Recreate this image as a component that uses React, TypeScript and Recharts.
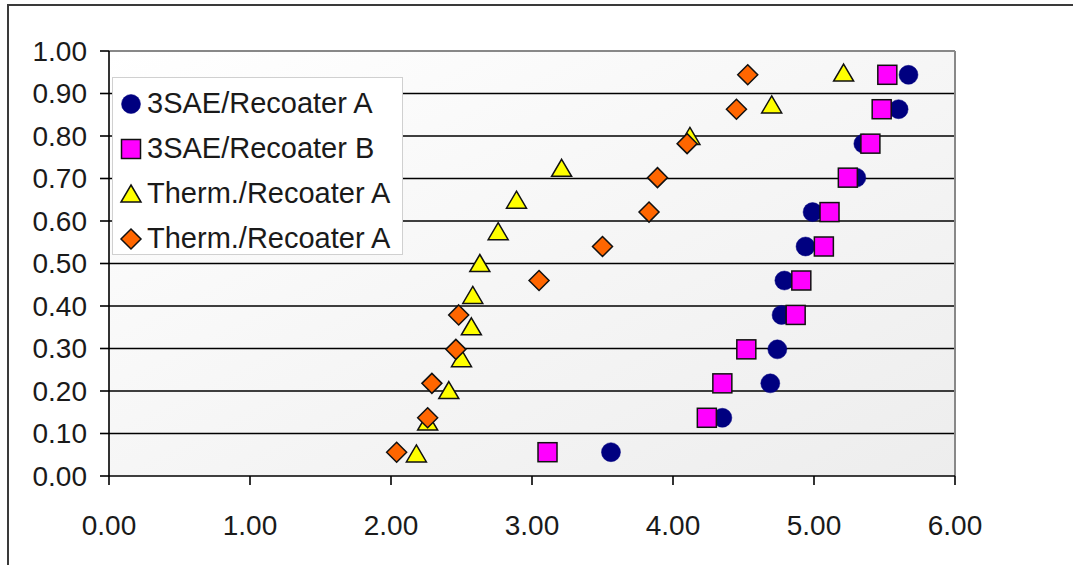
import React from 'react';
import { ScatterChart, Scatter, XAxis, YAxis, CartesianGrid, ReferenceLine, Legend } from 'recharts';

// Median ranks (y) for the 12-sample and 13-sample series
const ranks12 = [0.056, 0.137, 0.218, 0.298, 0.379, 0.46, 0.54, 0.621, 0.702, 0.782, 0.863, 0.944];
const ranks13 = [0.052, 0.127, 0.201, 0.276, 0.351, 0.425, 0.5, 0.575, 0.649, 0.724, 0.799, 0.873, 0.948];

// x values per series
const sae3RecoaterA = [3.56, 4.35, 4.69, 4.74, 4.77, 4.79, 4.94, 4.99, 5.3, 5.35, 5.6, 5.67];
const sae3RecoaterB = [3.11, 4.24, 4.35, 4.52, 4.87, 4.91, 5.07, 5.11, 5.24, 5.4, 5.48, 5.52];
const thermRecoaterA = [2.18, 2.26, 2.41, 2.5, 2.57, 2.58, 2.63, 2.76, 2.89, 3.21, 4.12, 4.7, 5.21];
const thermRecoaterA2 = [2.04, 2.26, 2.29, 2.46, 2.48, 3.05, 3.5, 3.83, 3.89, 4.1, 4.45, 4.53];

const seriesNames = ['3SAE/Recoater A', '3SAE/Recoater B', 'Therm./Recoater A', 'Therm./Recoater A'];
const xTicks = [0, 1, 2, 3, 4, 5, 6];
const yTicks = [0, 0.1, 0.2, 0.3, 0.4, 0.5, 0.6, 0.7, 0.8, 0.9, 1.0];
const gridValues = [0.1, 0.2, 0.3, 0.4, 0.5, 0.6, 0.7, 0.8, 0.9];

const toPoints = (xs: number[], ys: number[]) => xs.map((x, i) => ({ x, y: ys[i] }));

const FONT = '"Liberation Sans", Arial, sans-serif';
const TEXT = '#1a1a1a';

const Circle = ({ cx, cy }: any) => <circle cx={cx} cy={cy} r={9.5} fill="#000080" stroke="#000080" strokeWidth={0.5} />;
const Square = ({ cx, cy }: any) => (
  <rect x={cx - 9.5} y={cy - 9.5} width={19} height={19} fill="#FF00FF" stroke="#111" strokeWidth={1.5} />
);
const Triangle = ({ cx, cy }: any) => (
  <polygon points={`${cx},${cy - 9} ${cx + 10},${cy + 8} ${cx - 10},${cy + 8}`} fill="#FFFF00" stroke="#111" strokeWidth={1.5} />
);
const Diamond = ({ cx, cy }: any) => (
  <polygon points={`${cx},${cy - 10} ${cx + 10},${cy} ${cx},${cy + 10} ${cx - 10},${cy}`} fill="#FF6600" stroke="#111" strokeWidth={1.5} />
);

const markerShapes = [Circle, Square, Triangle, Diamond];

const LegendBox = () => (
  <div
    style={{
      width: 291,
      height: 178,
      background: '#ffffff',
      border: '1px solid #d0d0d0',
      boxSizing: 'border-box',
      paddingTop: 3,
      fontFamily: FONT,
    }}
  >
    {seriesNames.map((name, i) => {
      const Shape = markerShapes[i];
      return (
        <div key={i} style={{ height: 45, display: 'flex', alignItems: 'center' }}>
          <svg width={24} height={24} style={{ marginLeft: 6, marginRight: 4, overflow: 'visible' }}>
            <Shape cx={12} cy={12} />
          </svg>
          <span style={{ fontSize: 29, color: TEXT, whiteSpace: 'nowrap', lineHeight: '29px' }}>{name}</span>
        </div>
      );
    })}
  </div>
);

export default function App() {
  const fmt = (v: number) => v.toFixed(2);
  return (
    <div style={{ position: 'absolute', left: 0, top: 0, width: 1073, height: 565, background: '#fff' }}>
      <div
        style={{
          position: 'absolute',
          left: 7,
          top: 4,
          width: 1066,
          height: 561,
          borderTop: '2px solid #3a3a3a',
          borderLeft: '2px solid #3a3a3a',
        }}
      />
      <ScatterChart width={1073} height={565} margin={{ top: 51, right: 118, left: 0, bottom: 0 }}>
        <defs>
          <linearGradient id="plotBg" x1="0" y1="0" x2="1" y2="1">
            <stop offset="0%" stopColor="#ffffff" />
            <stop offset="100%" stopColor="#ededed" />
          </linearGradient>
        </defs>
        <CartesianGrid
          fill="url(#plotBg)"
          vertical={false}
          horizontalValues={gridValues}
          stroke="#000"
          strokeWidth={1.6}
          strokeDasharray=""
        />
        <XAxis
          type="number"
          dataKey="x"
          domain={[0, 6]}
          ticks={xTicks}
          tickFormatter={fmt}
          height={89}
          axisLine={{ stroke: '#000', strokeWidth: 1.6 }}
          tickLine={{ stroke: '#000', strokeWidth: 1.6 }}
          tickSize={9}
          tickMargin={30}
          tick={{ fill: TEXT, fontSize: 28, fontFamily: FONT }}
          allowDataOverflow
        />
        <YAxis
          type="number"
          dataKey="y"
          domain={[0, 1]}
          ticks={yTicks}
          tickFormatter={fmt}
          width={109}
          axisLine={{ stroke: '#000', strokeWidth: 1.6 }}
          tickLine={{ stroke: '#000', strokeWidth: 1.6 }}
          tickSize={9}
          tickMargin={13}
          tick={{ fill: TEXT, fontSize: 28, fontFamily: FONT }}
          allowDataOverflow
        />
        <ReferenceLine y={1} stroke="#888" strokeWidth={2} />
        <ReferenceLine x={6} stroke="#888" strokeWidth={2} />
        <Legend
          layout="vertical"
          align="center"
          verticalAlign="middle"
          wrapperStyle={{ position: 'absolute', left: 112, top: 77, width: 291, height: 178 }}
          content={() => <LegendBox />}
        />
        <Scatter name={seriesNames[0]} data={toPoints(sae3RecoaterA, ranks12)} shape={Circle} isAnimationActive={false} />
        <Scatter name={seriesNames[1]} data={toPoints(sae3RecoaterB, ranks12)} shape={Square} isAnimationActive={false} />
        <Scatter name={seriesNames[2]} data={toPoints(thermRecoaterA, ranks13)} shape={Triangle} isAnimationActive={false} />
        <Scatter name={seriesNames[3]} data={toPoints(thermRecoaterA2, ranks12)} shape={Diamond} isAnimationActive={false} />
      </ScatterChart>
    </div>
  );
}
